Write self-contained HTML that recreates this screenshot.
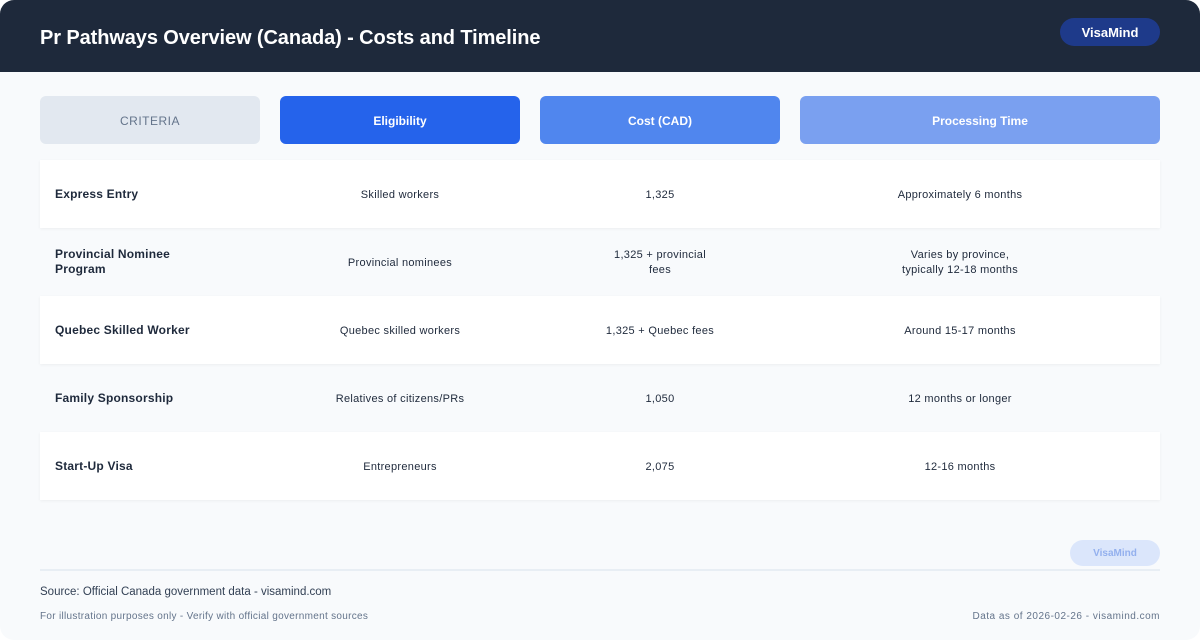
<!DOCTYPE html>
<html><head><style>
*{margin:0;padding:0;box-sizing:border-box}
body{width:1200px;height:640px;background:#fff;font-family:"Liberation Sans",sans-serif;overflow:hidden}
.page{position:absolute;left:0;top:0;width:1200px;height:640px;background:#f8fafc;border-radius:14px;overflow:hidden}
.hdr{position:absolute;left:0;top:0;width:1200px;height:72px;background:#1e293b}
.title{position:absolute;left:40px;top:27px;font-size:20px;font-weight:bold;color:#fff;letter-spacing:-0.1px}
.pill{position:absolute;left:1060px;top:18px;width:100px;height:28px;border-radius:14px;background:#1e3a8a;color:#fff;font-size:13px;font-weight:bold;text-align:center;line-height:29px}
.hc{position:absolute;top:96px;height:48px;border-radius:6px;font-size:12px;font-weight:bold;color:#fff;text-align:center;line-height:51px}
.row{position:absolute;left:40px;width:1120px;height:68px}
.row.w{background:#fff;box-shadow:0 1px 3px rgba(0,0,0,0.05)}
.c{position:absolute;top:0;height:68px;display:flex;align-items:center;font-size:11px;color:#1e293b;line-height:15px;letter-spacing:0.3px;padding-top:2px}
.c1{left:15px;width:200px;font-weight:bold;font-size:12px;letter-spacing:0.2px;padding-top:0}
.c2{left:240px;width:240px;justify-content:center;text-align:center}
.c3{left:500px;width:240px;justify-content:center;text-align:center}
.c4{left:740px;width:360px;justify-content:center;text-align:center}
</style></head><body><div class="page">
<div class="hdr"><div class="title">Pr Pathways Overview (Canada) - Costs and Timeline</div><div class="pill">VisaMind</div></div>
<div class="hc" style="left:40px;width:220px;background:#e2e8f0;color:#64748b;font-weight:normal;letter-spacing:0.5px">CRITERIA</div>
<div class="hc" style="left:280px;width:240px;background:#2563eb">Eligibility</div>
<div class="hc" style="left:540px;width:240px;background:#5086ee">Cost (CAD)</div>
<div class="hc" style="left:800px;width:360px;background:#7aa0f0">Processing Time</div>
<div class="row w" style="top:160px"><div class="c c1">Express Entry</div><div class="c c2">Skilled workers</div><div class="c c3">1,325</div><div class="c c4">Approximately 6 months</div></div>
<div class="row" style="top:228px"><div class="c c1">Provincial Nominee<br>Program</div><div class="c c2">Provincial nominees</div><div class="c c3">1,325 + provincial<br>fees</div><div class="c c4">Varies by province,<br>typically 12-18 months</div></div>
<div class="row w" style="top:296px"><div class="c c1">Quebec Skilled Worker</div><div class="c c2">Quebec skilled workers</div><div class="c c3">1,325 + Quebec fees</div><div class="c c4">Around 15-17 months</div></div>
<div class="row" style="top:364px"><div class="c c1">Family Sponsorship</div><div class="c c2">Relatives of citizens/PRs</div><div class="c c3">1,050</div><div class="c c4">12 months or longer</div></div>
<div class="row w" style="top:432px"><div class="c c1">Start-Up Visa</div><div class="c c2">Entrepreneurs</div><div class="c c3">2,075</div><div class="c c4">12-16 months</div></div>
<div style="position:absolute;left:1070px;top:540px;width:90px;height:26px;border-radius:13px;background:#dbe6fb;color:#93b0ee;font-size:10px;font-weight:bold;text-align:center;line-height:28px">VisaMind</div>
<div style="position:absolute;left:40px;top:569px;width:1120px;height:2px;background:#e8eef4"></div>
<div style="position:absolute;left:40px;top:586px;font-size:11.5px;color:#334155">Source: Official Canada government data - visamind.com</div>
<div style="position:absolute;left:40px;top:611px;font-size:10px;letter-spacing:0.3px;color:#64748b">For illustration purposes only - Verify with official government sources</div>
<div style="position:absolute;right:40px;top:611px;font-size:10px;letter-spacing:0.5px;color:#64748b">Data as of 2026-02-26 - visamind.com</div>
</div></body></html>
